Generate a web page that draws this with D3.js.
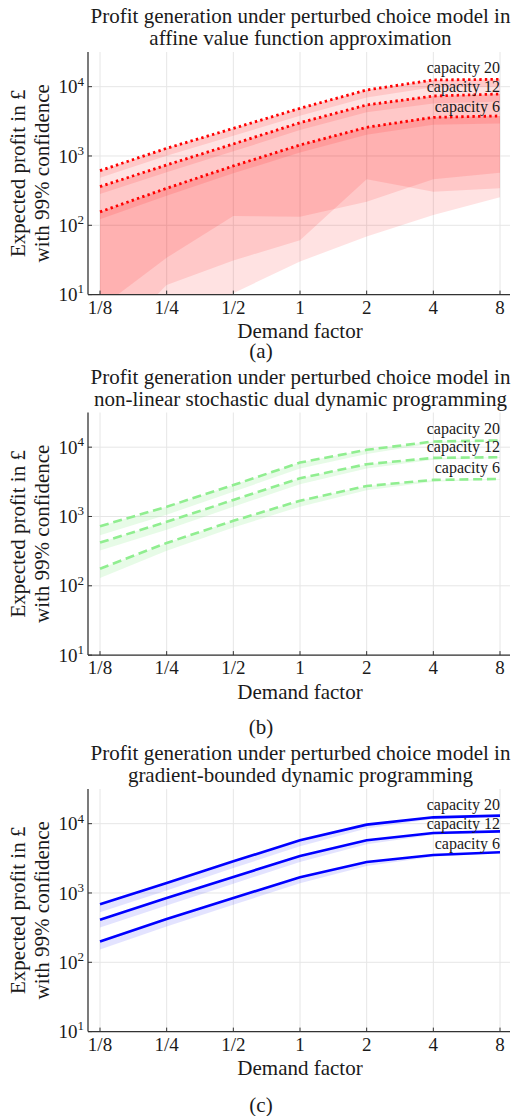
<!DOCTYPE html>
<html>
<head>
<meta charset="utf-8">
<script src="https://cdn.jsdelivr.net/npm/d3@7"></script>
<style>
  body { margin: 0; background: #fff; }
  text { font-family: "Liberation Serif", "DejaVu Serif", serif; fill: #1a1a1a; }
</style>
</head>
<body>
<svg id="chart" width="511" height="1116"></svg>
<script>
const demandFactors = [1/8, 1/4, 1/2, 1, 2, 4, 8];
const demandLabels = ["1/8", "1/4", "1/2", "1", "2", "4", "8"];
const capacityNames = ["capacity 20", "capacity 12", "capacity 6"];
const capacityLabelLevels = [18600, 10000, 5130];
const yTicks = [10, 100, 1000, 10000];

// (a) affine value function approximation
const afUpper20 = [614, 1290, 2500, 4870, 8960, 12500, 12750];
const afUpper12 = [361, 742, 1490, 3020, 5450, 7330, 7840];
const afUpper6 = [156, 342, 718, 1440, 2590, 3610, 3780];
const afNarrowLow20 = [485, 1010, 1960, 3810, 7000, 9770, 9960];
const afNarrowLow12 = [282, 580, 1165, 2360, 4260, 5730, 6120];
const afNarrowLow6 = [122, 267, 561, 1125, 2020, 2820, 2950];
const afLow20 = [6.4, 34, 136, 133, 219, 461, 574];
const afLow12 = [1.5, 13.7, 31, 61, 461, 305, 342];
const afLow6 = [0.8, 4, 10.5, 30, 69, 141, 254];

// (b) non-linear SDDP
const sdUpper20 = [724, 1380, 2840, 5990, 9150, 12080, 12500];
const sdUpper12 = [420, 837, 1730, 3560, 5680, 7000, 7160];
const sdUpper6 = [176, 415, 865, 1690, 2750, 3370, 3480];
const sdLow20 = [536, 1060, 2270, 4910, 7960, 11400, 12140];
const sdLow12 = [323, 644, 1380, 2920, 4940, 6600, 6950];
const sdLow6 = [129, 319, 692, 1385, 2390, 3180, 3380];

// (c) gradient-bounded DP
const gbUpper20 = [687, 1390, 2860, 5750, 9680, 12340, 13040];
const gbUpper12 = [412, 847, 1700, 3420, 5750, 7330, 7750];
const gbUpper6 = [199, 421, 847, 1680, 2800, 3530, 3860];
const gbLow20 = [528, 1086, 2290, 4710, 8490, 11640, 12660];
const gbLow12 = [317, 662, 1360, 2800, 5040, 6920, 7520];
const gbLow6 = [153, 329, 678, 1377, 2456, 3330, 3750];

const panels = [
  {
    id: "a", top: 52, caption: "(a)", captionGap: 56,
    title: ["Profit generation under perturbed choice model in", "affine value function approximation"],
    lines: [afUpper20, afUpper12, afUpper6],
    bands: [
      [afLow20, afUpper20], [afLow12, afUpper12], [afLow6, afUpper6],
      [afNarrowLow20, afUpper20], [afNarrowLow12, afUpper12], [afNarrowLow6, afUpper6]
    ],
    bandFill: "rgba(255,0,0,0.115)",
    stroke: "#ff0000", dash: "2.4,3.2", width: 2.8
  },
  {
    id: "b", top: 412.5, caption: "(b)", captionGap: 72,
    title: ["Profit generation under perturbed choice model in", "non-linear stochastic dual dynamic programming"],
    lines: [sdUpper20, sdUpper12, sdUpper6],
    bands: [[sdLow20, sdUpper20], [sdLow12, sdUpper12], [sdLow6, sdUpper6]],
    bandFill: "rgba(144,238,144,0.22)",
    stroke: "#90ee90", dash: "9,4.8", width: 2.6
  },
  {
    id: "c", top: 789, caption: "(c)", captionGap: 73.5,
    title: ["Profit generation under perturbed choice model in", "gradient-bounded dynamic programming"],
    lines: [gbUpper20, gbUpper12, gbUpper6],
    bands: [[gbLow20, gbUpper20], [gbLow12, gbUpper12], [gbLow6, gbUpper6]],
    bandFill: "rgba(0,0,255,0.11)",
    stroke: "#0000ff", dash: null, width: 2.6
  }
];

const svg = d3.select("#chart");
const plotLeft = 88, plotRight = 510, plotHeight = 242.6;

const x = d3.scaleLog().base(2).domain([1/8, 8]).range([100, 500]);

panels.forEach(p => {
  const top = p.top, bottom = top + plotHeight;
  const y = d3.scaleLog().domain([10, Math.pow(10, 4.5)]).range([bottom, top]);
  const g = svg.append("g").attr("class", "panel-" + p.id);

  g.append("clipPath").attr("id", "clip-" + p.id)
    .append("rect")
      .attr("x", plotLeft).attr("y", top)
      .attr("width", plotRight - plotLeft).attr("height", plotHeight);

  // grid
  g.selectAll(".xgrid").data(demandFactors).enter().append("line")
    .attr("x1", d => x(d)).attr("x2", d => x(d))
    .attr("y1", top).attr("y2", bottom)
    .attr("stroke", "#e6e6e6").attr("stroke-width", 1);
  g.selectAll(".ygrid").data(yTicks).enter().append("line")
    .attr("x1", plotLeft).attr("x2", plotRight)
    .attr("y1", d => y(d)).attr("y2", d => y(d))
    .attr("stroke", "#e6e6e6").attr("stroke-width", 1);

  const plot = g.append("g").attr("clip-path", "url(#clip-" + p.id + ")");

  const area = d3.area()
    .x((d, i) => x(demandFactors[i]))
    .y0(d => y(Math.max(d[0], 0.1)))
    .y1(d => y(d[1]));

  p.bands.forEach(([lo, hi]) => {
    plot.append("path")
      .datum(lo.map((v, i) => [v, hi[i]]))
      .attr("d", area)
      .attr("fill", p.bandFill)
      .attr("stroke", "none");
  });

  const line = d3.line()
    .x((d, i) => x(demandFactors[i]))
    .y(d => y(d));

  p.lines.forEach(vals => {
    plot.append("path")
      .datum(vals)
      .attr("d", line)
      .attr("fill", "none")
      .attr("stroke", p.stroke)
      .attr("stroke-width", p.width)
      .attr("stroke-dasharray", p.dash);
  });

  // capacity labels
  g.selectAll(".cap").data(capacityNames).enter().append("text")
    .attr("x", 500)
    .attr("y", (d, i) => y(capacityLabelLevels[i]))
    .attr("dy", "0.33em")
    .attr("text-anchor", "end")
    .attr("font-size", 16)
    .text(d => d);

  // axes spines
  g.append("line").attr("x1", plotLeft).attr("x2", plotLeft).attr("y1", top).attr("y2", bottom)
    .attr("stroke", "#333").attr("stroke-width", 1.3);
  g.append("line").attr("x1", plotLeft).attr("x2", plotRight).attr("y1", bottom).attr("y2", bottom)
    .attr("stroke", "#333").attr("stroke-width", 1.3);

  // ticks (inward)
  g.selectAll(".xt").data(demandFactors).enter().append("line")
    .attr("x1", d => x(d)).attr("x2", d => x(d))
    .attr("y1", bottom).attr("y2", bottom - 4)
    .attr("stroke", "#333");
  g.selectAll(".yt").data(yTicks).enter().append("line")
    .attr("x1", plotLeft).attr("x2", plotLeft + 4)
    .attr("y1", d => y(d)).attr("y2", d => y(d))
    .attr("stroke", "#333");

  g.selectAll(".xl").data(demandLabels).enter().append("text")
    .attr("x", (d, i) => x(demandFactors[i]))
    .attr("y", bottom + 12.5)
    .attr("dy", "0.35em")
    .attr("text-anchor", "middle")
    .attr("font-size", 19)
    .text(d => d);

  const yl = g.selectAll(".yl").data(yTicks).enter().append("text")
    .attr("x", 84)
    .attr("y", d => y(d))
    .attr("dy", "0.35em")
    .attr("text-anchor", "end")
    .attr("font-size", 19);
  yl.append("tspan").text("10");
  yl.append("tspan").attr("font-size", 13).attr("dy", "-0.6em").text(d => Math.round(Math.log10(d)));

  // titles
  p.title.forEach((t, i) => {
    g.append("text")
      .attr("x", 300.5).attr("y", top - 36 + i * 22)
      .attr("dy", "0.35em")
      .attr("text-anchor", "middle")
      .attr("font-size", 21)
      .text(t);
  });

  g.append("text")
    .attr("x", 300).attr("y", bottom + 36.5)
    .attr("dy", "0.35em").attr("text-anchor", "middle")
    .attr("font-size", 21)
    .text("Demand factor");

  g.append("text")
    .attr("x", 261).attr("y", bottom + p.captionGap)
    .attr("dy", "0.35em").attr("text-anchor", "middle")
    .attr("font-size", 21)
    .text(p.caption);

  const mid = (top + bottom) / 2;
  ["Expected profit in £", "with 99% confidence"].forEach((t, i) => {
    g.append("text")
      .attr("transform", `translate(${18 + i * 24},${mid}) rotate(-90)`)
      .attr("dy", "0.35em")
      .attr("text-anchor", "middle")
      .attr("font-size", 21)
      .text(t);
  });
});
</script>
</body>
</html>
